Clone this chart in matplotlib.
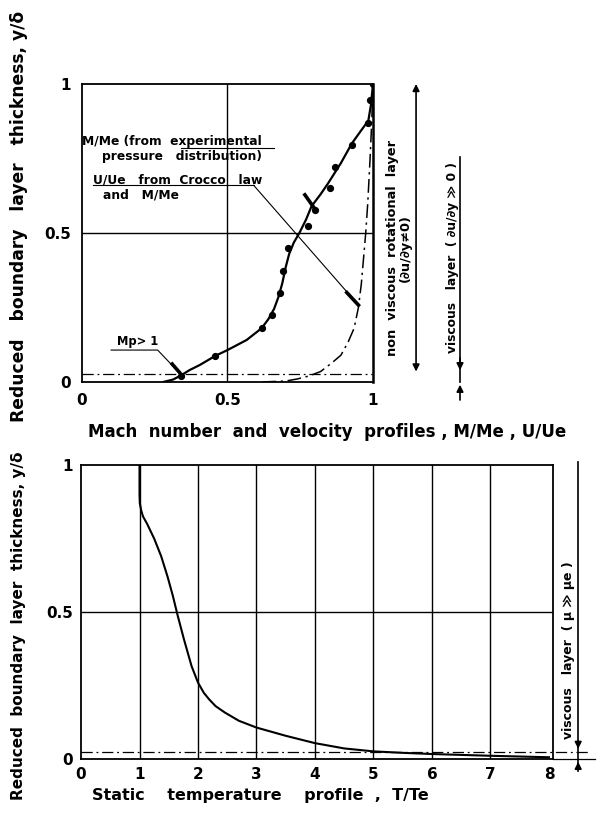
import matplotlib
matplotlib.use("Agg")
import matplotlib.pyplot as plt

# ---------------- data ----------------
# Top: Mach number profile M/Me (solid curve) and experimental points
mach_curve_x = [0.28, 0.313, 0.342, 0.37, 0.405, 0.457, 0.50, 0.566, 0.617, 0.64, 0.66, 0.675, 0.688, 0.70, 0.712, 0.728, 0.747, 0.77, 0.789, 0.82, 0.846, 0.89, 0.927, 0.96, 0.984, 0.993, 1.0]
mach_curve_y = [0.0, 0.008, 0.023, 0.04, 0.057, 0.087, 0.107, 0.141, 0.18, 0.21, 0.245, 0.285, 0.33, 0.385, 0.43, 0.468, 0.50, 0.545, 0.59, 0.63, 0.667, 0.735, 0.80, 0.845, 0.877, 0.93, 1.0]
mach_pts_x = [0.34, 0.457, 0.617, 0.652, 0.68, 0.692, 0.709, 0.778, 0.80, 0.852, 0.869, 0.927, 0.984, 0.99, 1.0]
mach_pts_y = [0.02, 0.087, 0.18, 0.225, 0.298, 0.374, 0.451, 0.523, 0.577, 0.65, 0.722, 0.795, 0.868, 0.946, 1.0]
# Top: velocity profile U/Ue (dash-dot curve)
vel_x = [0.62, 0.70, 0.74, 0.78, 0.82, 0.86, 0.89, 0.915, 0.935, 0.95, 0.96, 0.968, 0.975, 0.982, 0.99, 0.996, 1.0]
vel_y = [0.0, 0.003, 0.01, 0.02, 0.035, 0.065, 0.09, 0.135, 0.18, 0.25, 0.33, 0.42, 0.50, 0.60, 0.75, 0.88, 1.0]
top_xticks = [0, 0.5, 1]
top_xticklabels = ["0", "0.5", "1"]
top_yticks = [0, 0.5, 1]
top_yticklabels = ["0", "0.5", "1"]

# Bottom: static temperature profile T/Te
temp_x = [1.0, 1.0, 1.005, 1.03, 1.06, 1.13, 1.25, 1.37, 1.48, 1.57, 1.65, 1.76, 1.89, 2.0, 2.1, 2.19, 2.3, 2.46, 2.7, 3.0, 3.5, 4.0, 4.5, 5.0, 5.5, 6.0, 7.0, 8.0]
temp_y = [1.0, 0.90, 0.87, 0.845, 0.825, 0.80, 0.75, 0.69, 0.62, 0.555, 0.49, 0.407, 0.316, 0.26, 0.225, 0.203, 0.18, 0.158, 0.13, 0.107, 0.079, 0.054, 0.036, 0.026, 0.021, 0.017, 0.011, 0.006]
bot_xticks = [0, 1, 2, 3, 4, 5, 6, 7, 8]
bot_xticklabels = ["0", "1", "2", "3", "4", "5", "6", "7", "8"]
bot_yticks = [0, 0.5, 1]
bot_yticklabels = ["0", "0.5", "1"]

viscous_edge = 0.025   # viscous layer edge (dash-dot line)

# ---------------- figure ----------------
plt.rcParams['font.family'] = ['DejaVu Sans']
plt.rcParams['font.weight'] = 'bold'
fig = plt.figure(figsize=(6.06, 8.13), dpi=100)
fig.patch.set_facecolor('white')

FS_TICK = 11
DASHDOT = (0, (9, 3, 1.5, 3))

# ---------- top axes ----------
ax1 = fig.add_axes([0.1353, 0.5302, 0.4802, 0.3665])
ax1.set_xlim(0, 1)
ax1.set_ylim(0, 1)
for s in ax1.spines.values():
    s.set_linewidth(1.3)
    s.set_color('black')
ax1.spines['right'].set_linewidth(1.8)
ax1.set_xticks(top_xticks)
ax1.set_xticklabels(top_xticklabels, fontsize=FS_TICK, fontweight='bold')
ax1.set_yticks(top_yticks)
ax1.set_yticklabels(top_yticklabels, fontsize=FS_TICK, fontweight='bold')
ax1.tick_params(length=0, pad=8)
ax1.axvline(0.5, color='black', lw=1.0)
ax1.axhline(0.5, color='black', lw=1.0)
ax1.axhline(viscous_edge, color='black', lw=0.9, ls=DASHDOT)

ax1.plot(mach_curve_x, mach_curve_y, color='black', lw=1.6, solid_joinstyle='round')
ax1.plot(mach_pts_x, mach_pts_y, 'o', color='black', ms=4.2)
ax1.plot(vel_x, vel_y, color='black', lw=1.1, ls=DASHDOT)

# annotations in the top plot
tkw = dict(fontsize=8.8, fontweight='bold', color='black')
ax1.text(0.0, 0.806, "M/Me (from  experimental", ha='left', va='center', **tkw)
ax1.text(0.068, 0.756, "pressure   distribution)", ha='left', va='center', **tkw)
ax1.plot([0.34, 0.66], [0.785, 0.785], color='black', lw=0.8)
ax1.text(0.039, 0.678, "U/Ue   from  Crocco   law", ha='left', va='center', **tkw)
ax1.text(0.073, 0.627, "and   M/Me", ha='left', va='center', **tkw)
ax1.plot([0.039, 0.59], [0.66, 0.66], color='black', lw=0.8)
# leader to U/Ue curve
ax1.plot([0.59, 0.95], [0.66, 0.258], color='black', lw=0.8)
ax1.plot([0.91, 0.95], [0.30, 0.258], color='black', lw=2.6)
# short thick mark on M/Me curve
ax1.plot([0.766, 0.795], [0.628, 0.588], color='black', lw=2.6)
# Mp > 1
ax1.text(0.12, 0.135, "Mp> 1", ha='left', va='center', fontsize=8.3, fontweight='bold')
ax1.plot([0.10, 0.26, 0.342], [0.107, 0.107, 0.023], color='black', lw=0.8)
ax1.plot([0.31, 0.335], [0.06, 0.032], color='black', lw=2.6)

# right-side arrows / labels (top)
akw = dict(arrowstyle='<|-|>', color='black', lw=1.2, mutation_scale=10, shrinkA=0, shrinkB=0)
ax1.annotate('', xy=(1.148, 1.0), xytext=(1.148, 0.035), xycoords='data',
             arrowprops=akw, annotation_clip=False)
ax1.text(1.089, 0.45, "non  viscous  rotational  layer\n(\u2202u/\u2202y\u22600)", rotation=90,
         ha='center', va='center', multialignment='center', linespacing=1.0,
         fontsize=9.3, fontweight='bold', clip_on=False)
ax1.plot([1.299, 1.299], [0.755, 0.0], color='black', lw=1.2, clip_on=False)
ax1.annotate('', xy=(1.299, 0.03), xytext=(1.299, 0.09),
             arrowprops=dict(arrowstyle='-|>', color='black', lw=1.2, mutation_scale=10),
             annotation_clip=False)
ax1.annotate('', xy=(1.299, 0.0), xytext=(1.299, -0.07),
             arrowprops=dict(arrowstyle='-|>', color='black', lw=1.2, mutation_scale=10),
             annotation_clip=False)
ax1.text(1.272, 0.416, "viscous   layer  ( \u2202u/\u2202y \u226b 0 )", rotation=90, ha='center', va='center',
         fontsize=8.8, fontweight='bold', clip_on=False)

# ---------- bottom axes ----------
ax2 = fig.add_axes([0.1337, 0.0664, 0.7789, 0.3616])
ax2.set_xlim(0, 8.07)
ax2.set_ylim(0, 1)
for s in ax2.spines.values():
    s.set_linewidth(1.3)
    s.set_color('black')
ax2.set_xticks(bot_xticks)
ax2.set_xticklabels(bot_xticklabels, fontsize=FS_TICK, fontweight='bold')
ax2.set_yticks(bot_yticks)
ax2.set_yticklabels(bot_yticklabels, fontsize=FS_TICK, fontweight='bold')
ax2.tick_params(length=0, pad=6)
for gx in bot_xticks[1:-1]:
    ax2.axvline(gx, color='black', lw=1.0)
ax2.axhline(0.5, color='black', lw=1.0)
ax2.plot([0, 8.67], [viscous_edge, viscous_edge], color='black', lw=0.9,
         ls=DASHDOT, clip_on=False)
ax2.plot([8.07, 8.79], [0, 0], color='black', lw=0.9, clip_on=False)
ax2.plot(temp_x, temp_y, color='black', lw=1.5, solid_joinstyle='round')

# right side of bottom plot
ax2.plot([8.5, 8.5], [1.01, -0.04], color='black', lw=1.2, clip_on=False)
ax2.annotate('', xy=(8.5, viscous_edge), xytext=(8.5, 0.07),
             arrowprops=dict(arrowstyle='-|>', color='black', lw=1.2, mutation_scale=10),
             annotation_clip=False)
ax2.annotate('', xy=(8.5, 0.0), xytext=(8.5, -0.04),
             arrowprops=dict(arrowstyle='-|>', color='black', lw=1.2, mutation_scale=10),
             annotation_clip=False)
ax2.text(8.34, 0.37, "viscous   layer  ( \u03bc \u226b \u03bce )", rotation=90, ha='center', va='center',
         fontsize=9, fontweight='bold', clip_on=False)

# ---------- axis titles ----------
fig.text(0.145, 1 - 432 / 813, "Mach  number  and  velocity  profiles , M/Me , U/Ue",
         ha='left', va='center', fontsize=12, fontweight='bold')
fig.text(0.152, 1 - 795 / 813, "Static    temperature    profile  ,  T/Te",
         ha='left', va='center', fontsize=11.5, fontweight='bold')
fig.text(0.031, 1 - 216 / 813, "Reduced   boundary   layer   thickness, y/\u03b4",
         rotation=90, ha='center', va='center', fontsize=12.3, fontweight='bold')
fig.text(0.031, 1 - 626 / 813, "Reduced  boundary  layer  thickness, y/\u03b4",
         rotation=90, ha='center', va='center', fontsize=11, fontweight='bold')

fig.savefig("out.png", dpi=100, facecolor='white')
